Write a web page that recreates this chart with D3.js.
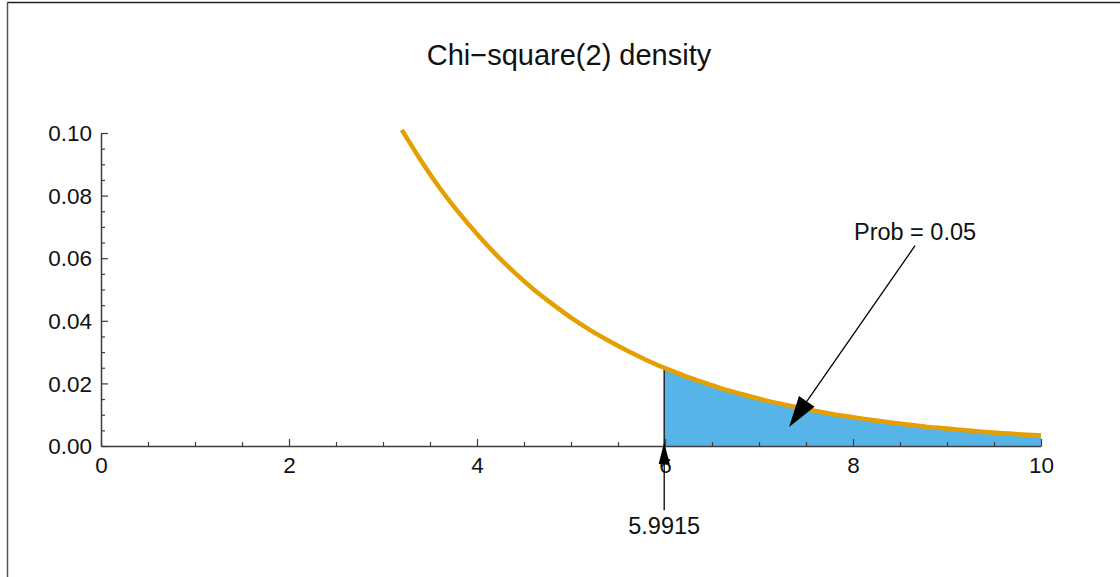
<!DOCTYPE html>
<html>
<head>
<meta charset="utf-8">
<script src="https://cdn.jsdelivr.net/npm/d3@7"></script>
<style>
  html, body { margin: 0; padding: 0; background: #fff; }
  svg text { font-family: "Liberation Sans", Arial, Helvetica, sans-serif; }
</style>
</head>
<body>
<div id="chart"></div>
<script>
// density (x, f(x))
const curveX = [3.2, 3.4, 3.6, 3.8, 4.0, 4.2, 4.4, 4.6, 4.8, 5.0, 5.2, 5.4, 5.6, 5.8,
  5.9915, 6.0, 6.2, 6.4, 6.6, 6.8, 7.0, 7.2, 7.4, 7.6, 7.8, 8.0, 8.2, 8.4, 8.6, 8.8,
  9.0, 9.2, 9.4, 9.6, 9.8, 10.0]
const curveY = [0.1010, 0.0914, 0.0826, 0.0748, 0.0677, 0.0612, 0.0554, 0.0501, 0.0454,
  0.0410, 0.0371, 0.0336, 0.0304, 0.0275, 0.0250, 0.0249, 0.0225, 0.0204, 0.0184, 0.0167,
  0.0151, 0.0137, 0.0124, 0.0112, 0.0101, 0.0092, 0.0083, 0.0075, 0.0068, 0.0061, 0.0056,
  0.0050, 0.0045, 0.0041, 0.0037, 0.0034]

const critValue = 5.9915
const critLabel = '5.9915'
const probLabel = 'Prob = 0.05'
const title = 'Chi\u2212square(2) density'

const xTicks = [0, 2, 4, 6, 8, 10]
const xMinorTicks = [0.5, 1, 1.5, 2.5, 3, 3.5, 4.5, 5, 5.5, 6.5, 7, 7.5, 8.5, 9, 9.5]
const yTicks = [0, 0.02, 0.04, 0.06, 0.08, 0.10]
const yMinorTicks = [0.005, 0.01, 0.015, 0.025, 0.03, 0.035, 0.045, 0.05, 0.055,
  0.065, 0.07, 0.075, 0.085, 0.09, 0.095]

// annotation anchors in data units
const probArrowFrom = [8.66, 0.0640]
const probArrowTo = [7.32, 0.0061]
const critArrowFrom = [critValue, -0.0205]
const critArrowTo = [critValue, 0.0013]

const width = 1120
const height = 577
const margin = { top: 133, left: 101, right: 79, bottom: 131 }
const innerW = width - margin.left - margin.right
const innerH = height - margin.top - margin.bottom

const points = curveX.map((x, i) => ({ x, y: curveY[i] }))
const tail = points.filter((d) => d.x >= critValue)

const svg = d3.select('#chart').append('svg')
  .attr('xmlns', 'http://www.w3.org/2000/svg')
  .attr('width', width)
  .attr('height', height)
  .style('display', 'block')

// frame of the image
svg.append('line').attr('x1', 7).attr('x2', width).attr('y1', 2.5).attr('y2', 2.5)
  .attr('stroke', '#222').attr('stroke-width', 1.3)
svg.append('line').attr('x1', 7.5).attr('x2', 7.5).attr('y1', 2).attr('y2', height)
  .attr('stroke', '#555').attr('stroke-width', 1.5)

svg.append('text')
  .attr('x', 569).attr('y', 65)
  .attr('text-anchor', 'middle')
  .attr('font-size', 29)
  .attr('fill', '#111')
  .text(title)

const g = svg.append('g').attr('transform', `translate(${margin.left},${margin.top})`)

const x = d3.scaleLinear().domain([0, 10]).range([0, innerW])
const y = d3.scaleLinear().domain([0, 0.1]).range([innerH, 0])

const axisColor = '#3d3d3d'

// shaded tail
const area = d3.area().x((d) => x(d.x)).y0(y(0)).y1((d) => y(d.y))
g.append('path').datum(tail).attr('d', area).attr('fill', '#56B4E9')

// vertical at critical value
g.append('line')
  .attr('x1', x(critValue)).attr('x2', x(critValue))
  .attr('y1', y(0)).attr('y2', y(curveY[curveX.indexOf(critValue)]))
  .attr('stroke', '#222').attr('stroke-width', 1.5)

// axes
g.append('g').attr('transform', `translate(0,${innerH})`)
  .call(d3.axisBottom(x).tickValues(xTicks).tickSize(-7).tickSizeOuter(0).tickPadding(11)
    .tickFormat(d3.format('d')))
g.append('g').attr('transform', `translate(0,${innerH})`)
  .call(d3.axisBottom(x).tickValues(xMinorTicks).tickSize(-4).tickSizeOuter(0).tickFormat(''))
  .call((s) => s.select('.domain').remove())
const yAxis = g.append('g')
  .call(d3.axisLeft(y).tickValues(yTicks).tickSize(-7).tickSizeOuter(0).tickPadding(9)
    .tickFormat(d3.format('.2f')))
g.append('g')
  .call(d3.axisLeft(y).tickValues(yMinorTicks).tickSize(-4).tickSizeOuter(0).tickFormat(''))
  .call((s) => s.select('.domain').remove())

g.selectAll('.domain').attr('stroke', axisColor).attr('stroke-width', 1.5)
g.selectAll('.tick line').attr('stroke', axisColor).attr('stroke-width', 1.2)
g.selectAll('.tick text').attr('fill', '#111').attr('font-size', 22.5)
  .attr('font-family', '"Liberation Sans", Arial, sans-serif')
yAxis.selectAll('.tick text').attr('dy', '0.34em')

// density curve
const line = d3.line().x((d) => x(d.x)).y((d) => y(d.y)).curve(d3.curveMonotoneX)
g.append('path').datum(points).attr('d', line)
  .attr('fill', 'none').attr('stroke', '#E69F00').attr('stroke-width', 4.5)

function arrow(from, to, headLen, headHalf) {
  const x0 = x(from[0]), y0 = y(from[1]), x1 = x(to[0]), y1 = y(to[1])
  const ang = Math.atan2(y1 - y0, x1 - x0)
  const bx = x1 - headLen * Math.cos(ang), by = y1 - headLen * Math.sin(ang)
  g.append('line').attr('x1', x0).attr('y1', y0).attr('x2', bx).attr('y2', by)
    .attr('stroke', '#000').attr('stroke-width', 1.3)
  const px = -Math.sin(ang) * headHalf, py = Math.cos(ang) * headHalf
  g.append('path')
    .attr('d', `M${x1},${y1}L${bx + px},${by + py}L${bx - px},${by - py}Z`)
    .attr('fill', '#000')
}

arrow(probArrowFrom, probArrowTo, 31, 9.5)
arrow(critArrowFrom, critArrowTo, 22, 5.5)

g.append('text')
  .attr('x', x(probArrowFrom[0])).attr('y', y(probArrowFrom[1]) - 6)
  .attr('text-anchor', 'middle').attr('font-size', 23.5).attr('fill', '#111')
  .text(probLabel)

g.append('text')
  .attr('x', x(critValue)).attr('y', y(critArrowFrom[1]) + 24)
  .attr('text-anchor', 'middle').attr('font-size', 23.5).attr('fill', '#111')
  .text(critLabel)
</script>
</body>
</html>
